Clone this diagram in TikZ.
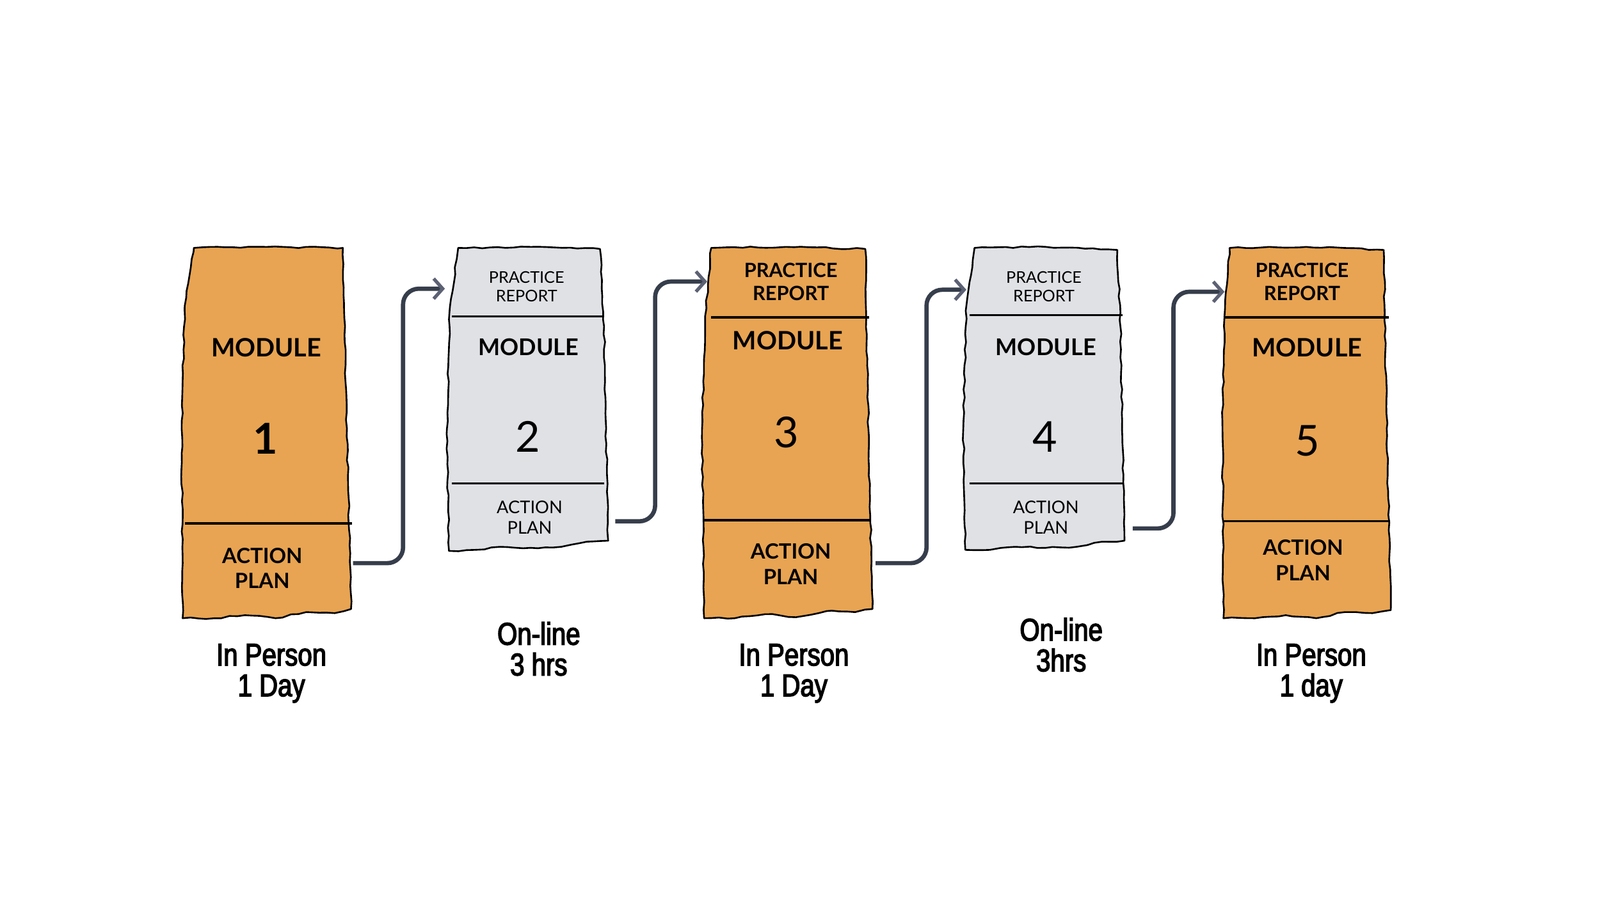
\documentclass[tikz,border=0pt]{standalone}
\usepackage{fontspec}
\setmainfont{Lato}
\newfontfamily\labelfont[FakeStretch=0.82,FakeBold=3]{Liberation Sans}
\usetikzlibrary{arrows.meta,decorations.pathmorphing}
\definecolor{boxorange}{HTML}{E8A452}
\definecolor{boxgrey}{HTML}{E0E1E5}
\definecolor{conn}{HTML}{363D4B}
\definecolor{tipgrey}{HTML}{5C6174}
\tikzset{
  paper/.style={draw=black,line width=0.75pt,line join=round,
    decorate,decoration={random steps,segment length=3.5pt,amplitude=0.35pt}},
  orangebox/.style={paper,fill=boxorange},
  greybox/.style={paper,fill=boxgrey},
  divider/.style={draw=black,line width=1pt},
  connline/.style={draw=conn,line width=1.9pt,rounded corners=7pt,
    -{Straight Barb[length=4pt,width=9pt,line width=1.5pt,color=tipgrey]}},
  bigtxt/.style={font=\fontsize{11.3}{13}\selectfont\bfseries,inner sep=0pt},
  bigtxtg/.style={font=\fontsize{10.3}{12}\selectfont\bfseries,inner sep=0pt},
  numtxt/.style={font=\fontsize{19}{20}\selectfont,inner sep=0pt},
  smalltxt/.style={font=\fontsize{7.2}{8.2}\selectfont,align=center,inner sep=0pt},
  medtxt/.style={font=\fontsize{8.8}{10.2}\selectfont\bfseries,align=center,inner sep=0pt},
  actsmall/.style={font=\fontsize{7.8}{9.1}\selectfont,align=center,inner sep=0pt},
  actbig/.style={font=\fontsize{9.4}{11.3}\selectfont\bfseries,align=center,inner sep=0pt},
  labeltxt/.style={font=\labelfont\fontsize{14}{13.7}\selectfont,align=center,inner sep=0pt}
}
\begin{document}
\begin{tikzpicture}[x=0.016cm,y=-0.016cm]
\useasboundingbox[fill=white] (0,0) rectangle (1568,881);

% ---------- Box 1 ----------
\path[orangebox] (190,243) -- (262,242) -- (336,243) -- (340,420) -- (344,597)
  -- (328,601) -- (300,600) -- (270,606) -- (240,603) -- (210,606) -- (179,606)
  -- (178,420) -- (181,300) -- cycle;
\draw[divider] (181,513) -- (345,513);
\node[bigtxt] (m1) at (261,341) {MODULE};
\node[numtxt,font=\fontsize{19}{20}\selectfont\bfseries] (n1) at (260,430) {1};
\node[actbig] (a1) at (257,557) {ACTION\\PLAN};
\node[labeltxt] (l1) at (266,660) {In Person\\1 Day};

% ---------- Box 2 ----------
\path[greybox] (449,243) -- (520,242) -- (588,244) -- (592,320) -- (596,530)
  -- (575,531) -- (550,536) -- (520,537) -- (490,536) -- (465,539) -- (440,540)
  -- (438,420) -- (441,300) -- cycle;
\draw[divider] (443,310) -- (592,310);
\draw[divider] (443,474) -- (592,474);
\node[smalltxt] (p2) at (516,281) {PRACTICE\\REPORT};
\node[bigtxtg] (m2) at (518,340) {MODULE};
\node[numtxt] (n2) at (517,428) {2};
\node[actsmall] (a2) at (519,507) {ACTION\\PLAN};
\node[labeltxt] (l2) at (528,636) {On-line\\3 hrs};

% ---------- Box 3 ----------
\path[orangebox] (697,243) -- (770,242) -- (848,244) -- (851,420) -- (855,597)
  -- (838,600) -- (810,599) -- (780,605) -- (750,602) -- (720,606) -- (690,606)
  -- (688,420) -- (691,310) -- cycle;
\draw[divider] (697,311) -- (852,311);
\draw[divider] (690,510) -- (853,510);
\node[medtxt] (p3) at (775,276) {PRACTICE\\REPORT};
\node[bigtxt] (m3) at (772,334) {MODULE};
\node[numtxt] (n3) at (771,424) {3};
\node[actbig] (a3) at (775,553) {ACTION\\PLAN};
\node[labeltxt] (l3) at (778,660) {In Person\\1 Day};

% ---------- Box 4 ----------
\path[greybox] (955,243) -- (1025,242) -- (1095,245) -- (1098,320) -- (1102,530)
  -- (1080,531) -- (1055,536) -- (1025,537) -- (995,536) -- (970,539) -- (946,539)
  -- (944,420) -- (947,300) -- cycle;
\draw[divider] (950,309) -- (1100,309);
\draw[divider] (950,474) -- (1100,474);
\node[smalltxt] (p4) at (1023,281) {PRACTICE\\REPORT};
\node[bigtxtg] (m4) at (1025,340) {MODULE};
\node[numtxt] (n4) at (1024,428) {4};
\node[actsmall] (a4) at (1025,507) {ACTION\\PLAN};
\node[labeltxt] (l4) at (1040,632) {On-line\\3hrs};

% ---------- Box 5 ----------
\path[orangebox] (1205,243) -- (1280,242) -- (1356,245) -- (1359,420) -- (1363,598)
  -- (1345,601) -- (1318,600) -- (1290,606) -- (1260,603) -- (1230,606) -- (1199,606)
  -- (1198,420) -- (1200,310) -- cycle;
\draw[divider] (1199,311) -- (1361,311);
\draw[divider] (1199,511) -- (1362,511);
\node[medtxt] (p5) at (1276,276) {PRACTICE\\REPORT};
\node[bigtxt] (m5) at (1281,341) {MODULE};
\node[numtxt] (n5) at (1281,432) {5};
\node[actbig] (a5) at (1277,549) {ACTION\\PLAN};
\node[labeltxt] (l5) at (1285,660) {In Person\\1 day};

% ---------- connector end points ----------
\coordinate (b1out) at (346,552);
\coordinate (k1) at (395,283);
\coordinate (b2in) at (436,283);
\coordinate (b2out) at (603,511);
\coordinate (k2) at (642,276);
\coordinate (b3in) at (693,276);
\coordinate (b3out) at (858,552);
\coordinate (k3) at (908,284);
\coordinate (b4in) at (947,284);
\coordinate (b4out) at (1110,518);
\coordinate (k4) at (1150,286);
\coordinate (b5in) at (1200,286);

% ---------- connectors ----------
\draw[connline] (b1out) -| (k1) -- (b2in);
\draw[connline] (b2out) -| (k2) -- (b3in);
\draw[connline] (b3out) -| (k3) -- (b4in);
\draw[connline] (b4out) -| (k4) -- (b5in);
\end{tikzpicture}
\end{document}
